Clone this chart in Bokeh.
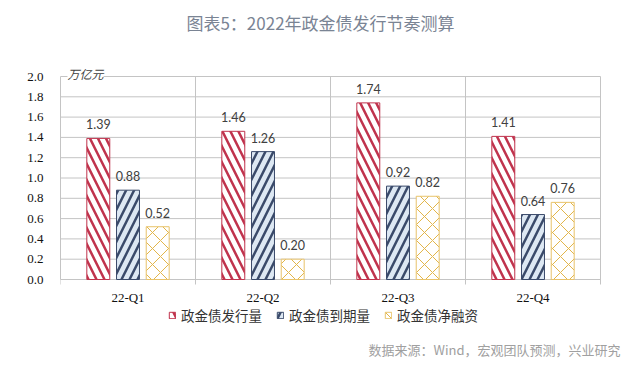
from bokeh.plotting import figure
from bokeh.models import (ColumnDataSource, FixedTicker, Label, Legend, LegendItem,
                          Range1d, NumeralTickFormatter)
from bokeh.transform import dodge
from bokeh.core.properties import value
from bokeh.embed import file_html
from bokeh.resources import INLINE

categories = ["22-Q1", "22-Q2", "22-Q3", "22-Q4"]
issuance = [1.39, 1.46, 1.74, 1.41]
maturity = [0.88, 1.26, 0.92, 0.64]
net_financing = [0.52, 0.20, 0.82, 0.76]
series_names = ["政金债发行量", "政金债到期量", "政金债净融资"]
y_ticks = [0.0, 0.2, 0.4, 0.6, 0.8, 1.0, 1.2, 1.4, 1.6, 1.8, 2.0]
unit_label = "万亿元"
title_text = "图表5：2022年政金债发行节奏测算"
source_text = "数据来源：Wind，宏观团队预测，兴业研究"

# ---- layout (pixels) ----
FIG_W, FIG_H = 624, 365
PLOT_LEFT, PLOT_RIGHT = 60, 600          # pixel columns of the plot box
PLOT_TOP, PLOT_BOTTOM = 76, 279          # pixel rows of y=2.0 and y=0.0
n = len(categories)
Y_MAX = y_ticks[-1]
PX = (PLOT_BOTTOM - PLOT_TOP) / Y_MAX     # pixels per y unit
PXX = (PLOT_RIGHT - PLOT_LEFT) / n        # pixels per category
Y1 = Y_MAX + PLOT_TOP / PX
Y0 = -(FIG_H - PLOT_BOTTOM) / PX
X1 = n + (FIG_W - PLOT_RIGHT) / PXX

x_pos = [i + 0.5 for i in range(n)]
bounds = list(range(n + 1))

src = ColumnDataSource(dict(
    x=x_pos, a=issuance, b=maturity, c=net_financing, cat=categories,
    ta=["%.2f" % v for v in issuance],
    tb=["%.2f" % v for v in maturity],
    tc=["%.2f" % v for v in net_financing],
))

GRID = "#C4C4C4"
p = figure(width=FIG_W, height=FIG_H, output_backend="svg", toolbar_location=None,
           x_range=Range1d(0, X1), y_range=Range1d(Y0, Y1), x_axis_type=None,
           min_border=0, min_border_left=PLOT_LEFT, min_border_right=0,
           min_border_top=0, min_border_bottom=0)
p.outline_line_color = None
p.background_fill_color = "white"
p.border_fill_color = "white"

# y axis
p.yaxis.ticker = FixedTicker(ticks=y_ticks)
p.yaxis.bounds = (0, Y_MAX)
p.yaxis.formatter = NumeralTickFormatter(format="0.0")
p.yaxis.major_tick_line_color = None
p.yaxis.minor_tick_line_color = None
p.yaxis.axis_line_color = GRID
p.yaxis.major_label_standoff = 11
p.yaxis.major_label_text_font = "Liberation Serif"
p.yaxis.major_label_text_font_size = "13px"
p.yaxis.major_label_text_color = "#111111"
p.ygrid.grid_line_color = None
p.xgrid.grid_line_color = None

# horizontal grid lines within the plot box
p.segment(x0=[0] * len(y_ticks), x1=[n] * len(y_ticks), y0=y_ticks, y1=y_ticks,
          line_color=GRID, line_width=1)
# category separators and ticks below the axis
p.segment(x0=bounds, x1=bounds, y0=[-5 / PX] * len(bounds), y1=[Y_MAX] * len(bounds),
          line_color=GRID, line_width=1)

# category labels
p.text(x="x", y=value(0), text="cat", source=src, y_offset=18,
       text_align="center", text_baseline="middle",
       text_font=value("Liberation Serif"), text_font_size="13px", text_color="#111111")

W = 0.17
OFF = 0.22
r1 = p.vbar(x=dodge("x", -OFF), top="a", width=W, source=src,
            fill_color="white", line_color="#C0334D", line_width=1,
            hatch_pattern="\\", hatch_color="#C0334D", hatch_scale=16, hatch_weight=2.5)
r2 = p.vbar(x=dodge("x", 0), top="b", width=W, source=src,
            fill_color="#DDE8F3", line_color="#3A4A6A", line_width=1,
            hatch_pattern="/", hatch_color="#3A4A6A", hatch_scale=16, hatch_weight=2.5)
r3 = p.vbar(x=dodge("x", OFF), top="c", width=W, source=src,
            fill_color="white", line_color="#E8C36A", line_width=1,
            hatch_pattern="x", hatch_color="#E2B54A", hatch_scale=16, hatch_weight=1)

for col, tcol, off in (("a", "ta", -OFF), ("b", "tb", 0), ("c", "tc", OFF)):
    p.text(x=dodge("x", off), y=col, text=tcol, source=src, y_offset=-14,
           text_align="center", text_baseline="middle",
           text_font=value("Lato"), text_font_size="12.5px", text_color="#404040")

legend = Legend(items=[LegendItem(label=series_names[0], renderers=[r1]),
                       LegendItem(label=series_names[1], renderers=[r2]),
                       LegendItem(label=series_names[2], renderers=[r3])],
                orientation="horizontal", location=(108, 40),
                glyph_width=8, glyph_height=8, label_standoff=5, spacing=14,
                padding=0, margin=0, border_line_color=None, background_fill_alpha=0,
                label_text_font="Noto Sans CJK SC", label_text_font_size="13.5px",
                label_text_color="#333333", label_height=20)
p.add_layout(legend)

p.add_layout(Label(x=320 - PLOT_LEFT, y=FIG_H - 22, x_units="screen", y_units="screen",
                   text=title_text, text_align="center", text_baseline="middle",
                   text_font="Noto Sans CJK SC", text_font_size="17px", text_color="#7A8494"))
p.add_layout(Label(x=7, y=FIG_H - 73, x_units="screen", y_units="screen",
                   text=unit_label, text_align="left", text_baseline="middle",
                   text_font="Noto Sans CJK SC", text_font_style="italic",
                   text_font_size="12px", text_color="#404040",
                   background_fill_color="white"))
p.add_layout(Label(x=620 - PLOT_LEFT, y=FIG_H - 349, x_units="screen", y_units="screen",
                   text=source_text, text_align="right", text_baseline="middle",
                   text_font="Noto Sans CJK SC", text_font_size="13px", text_color="#A0A0A0"))

open("out.html", "w").write(file_html(p, INLINE))
